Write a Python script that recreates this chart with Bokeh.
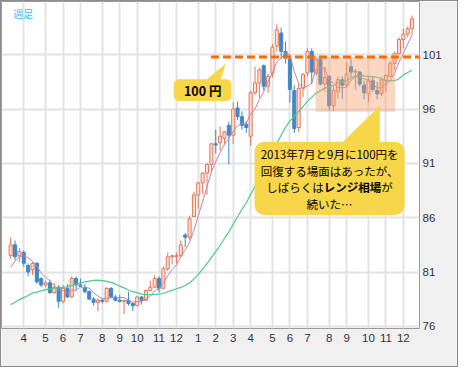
import numpy as np
import pandas as pd
from bokeh.plotting import figure
from bokeh.models import (ColumnDataSource, Range1d, FixedTicker, BoxAnnotation, Label,
                          PolyAnnotation, Legend, LegendItem)
from bokeh.core.properties import value
from bokeh.embed import file_html
from bokeh.resources import INLINE

# ---------------- data (USD/JPY weekly) ----------------
first_week = "2012-03-12"

# closes of the 24 weeks before the first candle (only used to warm up the moving averages)
prior_closes = [77.0, 76.7, 77.2, 76.2, 75.8, 78.2, 77.1, 76.9, 77.7, 77.9, 77.6, 77.8,
                78.0, 76.9, 76.9, 76.9, 77.0, 76.7, 76.6, 77.6, 79.5, 81.2, 81.1, 81.9]

opens = [82.5, 83.5, 82.5, 82.8, 81.6, 81.2, 81.8, 80.4, 79.8, 80.0,
         79.1, 79.6, 78.3, 79.5, 78.7, 80.4, 79.8, 79.6, 79.2, 78.5,
         78.2, 78.4, 78.3, 79.5, 78.7, 78.4, 78.3, 78.4, 78.1, 77.9,
         78.7, 78.4, 79.3, 79.6, 80.4, 79.5, 81.3, 82.4, 82.4, 82.5,
         84.4, 84.2, 86.1, 88.1, 89.2, 90.1, 90.9, 92.8, 92.9, 93.3,
         94.5, 93.6, 96.1, 95.3, 94.6, 93.5, 97.5, 98.4, 100.0, 98.1,
         99.3, 101.8, 103.0, 101.3, 100.6, 97.7, 94.3, 97.9, 99.3, 101.3,
         99.3, 100.6, 98.3, 99.0, 96.3, 97.6, 98.7, 98.2, 99.9, 99.4,
         99.4, 98.2, 97.4, 98.6, 97.7, 97.4, 98.6, 99.0, 100.2, 101.1,
         102.4, 102.9, 103.4]
highs = [84.2, 83.9, 83.2, 83.0, 81.8, 81.9, 81.9, 80.5, 80.2, 80.3,
         80.0, 79.8, 79.8, 79.9, 80.6, 80.6, 80.4, 79.9, 79.3, 78.7,
         78.6, 78.6, 79.6, 79.6, 78.9, 78.9, 78.4, 79.2, 78.2, 78.8,
         78.8, 79.4, 80.2, 80.7, 80.6, 81.5, 82.8, 82.6, 82.8, 83.9,
         84.6, 86.2, 88.4, 89.3, 90.2, 91.0, 92.9, 94.1, 94.4, 94.0,
         94.8, 96.6, 96.7, 95.8, 94.9, 97.7, 99.9, 99.8, 100.1, 99.3,
         102.0, 103.8, 103.5, 102.2, 101.0, 98.2, 98.3, 99.3, 101.6, 101.6,
         100.8, 100.9, 99.9, 99.1, 98.1, 99.0, 99.0, 100.3, 100.6, 99.7,
         99.5, 98.6, 98.9, 99.0, 98.5, 98.8, 99.2, 100.4, 101.3, 102.6,
         103.4, 103.6, 104.6]
lows = [82.2, 82.1, 81.9, 81.5, 80.6, 80.7, 79.9, 79.6, 79.6, 79.0,
        79.0, 77.7, 78.1, 78.6, 78.6, 79.3, 79.6, 79.0, 78.5, 77.9,
        77.4, 78.1, 78.2, 78.6, 78.3, 78.2, 77.1, 77.9, 77.4, 77.9,
        78.0, 78.3, 79.2, 79.5, 79.1, 79.4, 81.1, 81.7, 81.8, 82.3,
        83.3, 84.0, 86.1, 86.8, 88.2, 88.1, 90.2, 91.9, 92.2, 92.7,
        90.9, 92.8, 95.0, 94.1, 93.8, 92.6, 97.3, 97.0, 97.7, 97.5,
        98.9, 101.3, 100.6, 100.2, 96.6, 93.8, 93.9, 97.1, 99.0, 98.3,
        99.1, 98.2, 97.6, 95.9, 95.8, 97.0, 96.9, 98.0, 98.9, 97.8,
        98.1, 96.9, 96.6, 97.6, 96.9, 97.2, 97.6, 98.9, 99.6, 101.0,
        101.6, 102.6, 102.8]
closes = [83.5, 82.4, 82.9, 81.8, 81.0, 81.8, 80.1, 79.8, 80.0, 79.1,
          79.6, 78.3, 79.5, 78.7, 80.4, 79.8, 79.7, 79.2, 78.5, 78.2,
          78.4, 78.3, 79.5, 78.7, 78.4, 78.3, 78.4, 78.1, 77.9, 78.7,
          78.4, 79.3, 79.6, 80.4, 79.5, 81.3, 82.4, 82.5, 82.5, 83.5,
          84.2, 85.9, 88.1, 89.2, 90.1, 90.9, 92.8, 92.7, 93.5, 93.9,
          93.6, 96.0, 95.3, 94.5, 94.3, 97.5, 98.4, 99.6, 98.1, 99.0,
          101.7, 103.3, 101.3, 100.7, 97.8, 94.2, 97.9, 99.2, 101.3, 99.4,
          100.6, 98.3, 98.9, 96.3, 97.7, 98.7, 98.2, 99.2, 99.4, 99.5,
          98.3, 97.5, 98.6, 97.8, 97.4, 98.7, 99.1, 100.2, 101.1, 102.4,
          102.9, 103.4, 104.3]

month_labels = ["4", "5", "6", "7", "8", "9", "10", "11", "12",
                "1", "2", "3", "4", "5", "6", "7", "8", "9", "10", "11", "12"]
y_ticks = [76, 81, 86, 91, 96, 101]

resistance_level = 100.8          # the "100円" line
range_top, range_bottom = 100.8, 95.75

ma_labels = ["５週移動平均線", "２５週移動平均線"]

# ---------------- derived ----------------
n = len(closes)
dates = pd.date_range(first_week, periods=n, freq="7D")
xs = np.arange(n)
month_ticks = [i for i in range(1, n) if dates[i].month != dates[i - 1].month]
assert len(month_ticks) == len(month_labels)

all_closes = np.array(prior_closes + closes)
k0 = len(prior_closes)
ma5 = [all_closes[k0 + i - 4:k0 + i + 1].mean() for i in range(n)]
ma25 = [all_closes[k0 + i - 24:k0 + i + 1].mean() for i in range(n)]

UP_LINE, UP_FILL = "#e2775a", "#fbe0d5"
DN = "#3f88c8"
o = np.array(opens); c = np.array(closes)
up = c >= o
src = ColumnDataSource(dict(
    x=xs, high=highs, low=lows,
    top=np.maximum(o, c), bottom=np.minimum(o, c),
    line=[UP_LINE if u else DN for u in up],
    fill=[UP_FILL if u else DN for u in up],
))

# ---------------- figure ----------------
p = figure(width=458, height=367, output_backend="svg", toolbar_location=None,
           x_range=Range1d(-2.1, 93.7), y_range=Range1d(75.8, 105.9),
           y_axis_location="right",
           min_border_left=0, min_border_top=0, min_border_right=40, min_border_bottom=40)
p.styles = {"border": "1px solid #8c8c8c"}
p.background_fill_color = "white"
p.border_fill_color = "#f0f0f0"
p.outline_line_color = "#9a9a9a"

p.xaxis.ticker = FixedTicker(ticks=month_ticks)
p.xaxis.major_label_overrides = {t: l for t, l in zip(month_ticks, month_labels)}
p.yaxis.ticker = FixedTicker(ticks=y_ticks)
for ax in (p.xaxis[0], p.yaxis[0]):
    ax.axis_line_color = None
    ax.major_tick_line_color = None
    ax.minor_tick_line_color = None
    ax.major_tick_out = 0
    ax.major_tick_in = 0
    ax.minor_tick_out = 0
    ax.minor_tick_in = 0
    ax.major_label_text_font = "Liberation Sans"
    ax.major_label_text_font_size = "11.5px"
    ax.major_label_text_color = "#333333"
p.xaxis.major_label_standoff = 5
p.yaxis.major_label_standoff = 3
p.xgrid.ticker = FixedTicker(ticks=month_ticks)
p.ygrid.ticker = FixedTicker(ticks=y_ticks)
p.grid.grid_line_color = "#e2e2e2"
p.grid.grid_line_width = 2

# candles
p.segment(x0="x", y0="low", x1="x", y1="high", line_color="line", line_width=1, source=src)
p.vbar(x="x", width=0.7, top="top", bottom="bottom", fill_color="fill",
       line_color="line", line_width=1, source=src)

# moving averages
r5 = p.line(xs, ma5, line_color="#cd7ea6", line_width=1)
r25 = p.line(xs, ma25, line_color="#4fc88e", line_width=1.2)

# range box
p.add_layout(BoxAnnotation(left=69.9, right=88.1, top=range_top, bottom=range_bottom,
                           fill_color="#f4a070", fill_alpha=0.42, line_color=None))

# resistance line
p.line([45.9, 93.7], [resistance_level, resistance_level], line_color="#ff6a00",
       line_width=3, line_dash="8 4", level="overlay")

YEL = "#f7d64a"
# callout 1
p.add_layout(PolyAnnotation(xs=[44.6, 49.3, 48.1], ys=[98.6, 100.2, 98.6],
                            fill_color=YEL, fill_alpha=1, line_color=None))
p.add_layout(BoxAnnotation(left=37.4, right=50.6, top=98.75, bottom=96.75,
                           fill_color=YEL, fill_alpha=1, line_color=None, border_radius=5))
p.add_layout(Label(x=44.0, y=97.75, text="100 円", text_align="center", text_baseline="middle",
                   text_font="Noto Sans CJK JP", text_font_style="bold",
                   text_font_size="12.5px", text_color="black"))

# callout 2
p.add_layout(PolyAnnotation(xs=[75.9, 84.6, 84.6], ys=[92.9, 96.3, 92.9],
                            fill_color=YEL, fill_alpha=1, line_color=None))
p.add_layout(BoxAnnotation(left=55.9, right=90.3, top=93.0, bottom=86.23,
                           fill_color=YEL, fill_alpha=1, line_color=None, border_radius=10))
cx, cy = 73.1, 89.55
fs = 11.5
lh = 16.7
common = dict(text_baseline="middle", text_font="Noto Sans CJK JP",
              text_font_size=f"{fs}px", text_color="black")
p.add_layout(Label(x=cx, y=cy, y_offset=1.5 * lh, text="2013年7月と9月に100円を",
                   text_align="center", **common))
p.add_layout(Label(x=cx, y=cy, y_offset=0.5 * lh, text="回復する場面はあったが、",
                   text_align="center", **common))
p.add_layout(Label(x=cx, y=cy, y_offset=-0.5 * lh, x_offset=-5.5 * fs, text="しばらくは",
                   text_align="left", **common))
p.add_layout(Label(x=cx, y=cy, y_offset=-0.5 * lh, x_offset=-0.5 * fs, text="レンジ相場",
                   text_align="left", text_font_style="bold", **common))
p.add_layout(Label(x=cx, y=cy, y_offset=-0.5 * lh, x_offset=4.5 * fs, text="が",
                   text_align="left", **common))
p.add_layout(Label(x=cx, y=cy, y_offset=-1.5 * lh, text="続いた…",
                   text_align="center", **common))

# title-ish tag
p.add_layout(Label(x=0.6, y=105.5, text="週足", text_baseline="top", text_align="left",
                   text_font="Noto Sans CJK JP", text_font_size="10px", text_color="#3cbef0"))

legend = Legend(items=[LegendItem(label=ma_labels[0], renderers=[r5]),
                       LegendItem(label=ma_labels[1], renderers=[r25])],
                orientation="horizontal", location=(10, -35),
                label_text_font="Noto Sans CJK JP", label_text_font_size="11px",
                label_text_color="#333333", glyph_width=18, glyph_height=12,
                label_standoff=7, spacing=14, padding=1, margin=0,
                border_line_color=None, background_fill_alpha=0)
p.add_layout(legend, "center")

open("out.html", "w").write(file_html(p, INLINE))
